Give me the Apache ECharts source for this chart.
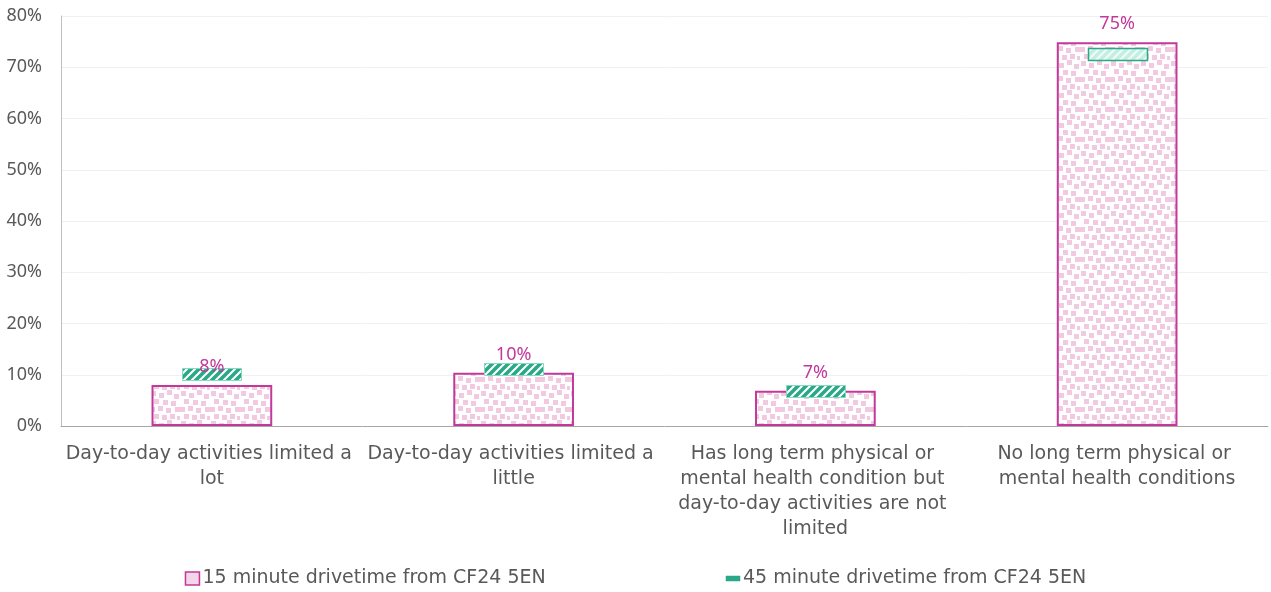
<!DOCTYPE html>
<html>
<head>
<meta charset="utf-8">
<script src="https://cdn.jsdelivr.net/npm/echarts@6/dist/echarts.min.js"></script>
<style>
  html, body { margin: 0; padding: 0; background: #fff; }
  #chart { width: 1271px; height: 592px; }
</style>
</head>
<body>
<div id="chart"></div>
<script>
// categories and values (percent)
const categories = [
  'Day-to-day activities limited a lot',
  'Day-to-day activities limited a little',
  'Has long term physical or mental health condition but day-to-day activities are not limited',
  'No long term physical or mental health conditions'
]
const drive15 = [8.0, 10.4, 6.9, 74.9]
const drive45 = [10.1, 11.1, 6.9, 72.5]
const seriesNames = ['15 minute drivetime from CF24 5EN', '45 minute drivetime from CF24 5EN']
const yTicks = [0, 10, 20, 30, 40, 50, 60, 70, 80]

const pink = '#c2399b'
const green = '#2aa887'
const textFont = 'DejaVu Sans'
const numFont = 'Noto Sans'

// pink dotted texture for the bars
function dotPattern() {
  const c = document.createElement('canvas')
  c.width = 30; c.height = 30
  const g = c.getContext('2d')
  g.fillStyle = '#fff'
  g.fillRect(0, 0, 30, 30)
  g.fillStyle = '#f1c9e0'
  const spots = [
    [1, 1], [9, 3], [17, 0], [24, 4],
    [4, 9], [13, 10], [21, 11],
    [0, 17], [8, 16], [16, 18], [25, 17],
    [4, 24], [12, 25], [20, 24], [27, 26]
  ]
  spots.forEach(([x, y]) => g.fillRect(x, y, 5, 5))
  return c
}

// diagonal hatch for the markers
function hatchPattern(fg, bg, w) {
  const c = document.createElement('canvas')
  c.width = 8; c.height = 8
  const g = c.getContext('2d')
  g.fillStyle = bg
  g.fillRect(0, 0, 8, 8)
  g.strokeStyle = fg
  g.lineWidth = w
  g.beginPath()
  g.moveTo(-2, 10); g.lineTo(10, -2)
  g.moveTo(-6, 6); g.lineTo(6, -6)
  g.moveTo(2, 14); g.lineTo(14, 2)
  g.stroke()
  return c
}

const darkHatch = { image: hatchPattern(green, '#ffffff', 3.6), repeat: 'repeat' }
const lightHatch = { image: hatchPattern('#c4eee1', '#effaf6', 3.4), repeat: 'repeat' }

const chart = echarts.init(document.getElementById('chart'))
chart.setOption({
  animation: false,
  textStyle: { fontFamily: textFont },
  grid: { left: 61, right: 3, top: 16, bottom: 166 },
  legend: {
    bottom: -1,
    left: 'center',
    itemGap: 180,
    itemWidth: 14,
    itemHeight: 13,
    textStyle: { fontFamily: textFont, fontSize: 19, color: '#595959', padding: [0, 0, 0, -2] },
    data: [
      { name: seriesNames[0], icon: 'rect',
        itemStyle: { color: '#f3d6e8', borderColor: pink, borderWidth: 1.5 } },
      { name: seriesNames[1], icon: 'path://M0,0 M0,4 L14,4 L14,9 L0,9 Z M14,13',
        itemStyle: { color: green, borderColor: green, borderWidth: 0.5 } }
    ]
  },
  xAxis: {
    type: 'category',
    data: categories,
    axisLine: { lineStyle: { color: '#a6a6a6', width: 1 } },
    axisTick: { show: false },
    axisLabel: {
      interval: 0,
      width: 293,
      overflow: 'break',
      margin: 16,
      lineHeight: 25,
      fontSize: 19,
      color: '#595959',
      fontFamily: textFont
    }
  },
  yAxis: {
    type: 'value',
    min: yTicks[0],
    max: yTicks[yTicks.length - 1],
    interval: yTicks[1] - yTicks[0],
    axisLine: { show: true, lineStyle: { color: '#bfbfbf' } },
    axisTick: { show: false },
    splitLine: { lineStyle: { color: '#f0f0f0' } },
    axisLabel: { formatter: '{value}%', fontSize: 18, color: '#595959', margin: 19, fontFamily: numFont }
  },
  series: [
    {
      name: seriesNames[0],
      type: 'bar',
      data: drive15,
      barWidth: '40%',
      itemStyle: {
        color: { image: dotPattern(), repeat: 'repeat' },
        borderColor: pink,
        borderWidth: 2
      },
      z: 2
    },
    {
      // 45 minute marker drawn over the bar, with the 15 minute value label on top
      name: seriesNames[1],
      type: 'custom',
      data: drive45.map((v, i) => [i, v, drive15[i]]),
      encode: { x: 0, y: 1 },
      renderItem: (params, api) => {
        const pt = api.coord([api.value(0), api.value(1)])
        const top = api.coord([api.value(0), api.value(2)])
        const w = 59, h = 12
        const last = params.dataIndex === 3
        return {
          type: 'group',
          children: [
            {
              type: 'rect',
              shape: { x: Math.round(pt[0] - w / 2) + 0.5, y: Math.round(pt[1] - h / 2) + 0.5, width: w, height: h },
              style: {
                fill: last ? lightHatch : darkHatch,
                stroke: last ? green : '#86d8c1',
                lineWidth: last ? 1.5 : 1
              }
            },
            {
              type: 'text',
              z2: 10,
              style: {
                x: top[0],
                y: top[1] - 9,
                text: Math.round(api.value(2)) + '%',
                align: 'center',
                verticalAlign: 'bottom',
                fontSize: 18,
                fontFamily: numFont,
                fill: pink
              }
            }
          ]
        }
      },
      z: 3
    }
  ]
})
</script>
</body>
</html>
